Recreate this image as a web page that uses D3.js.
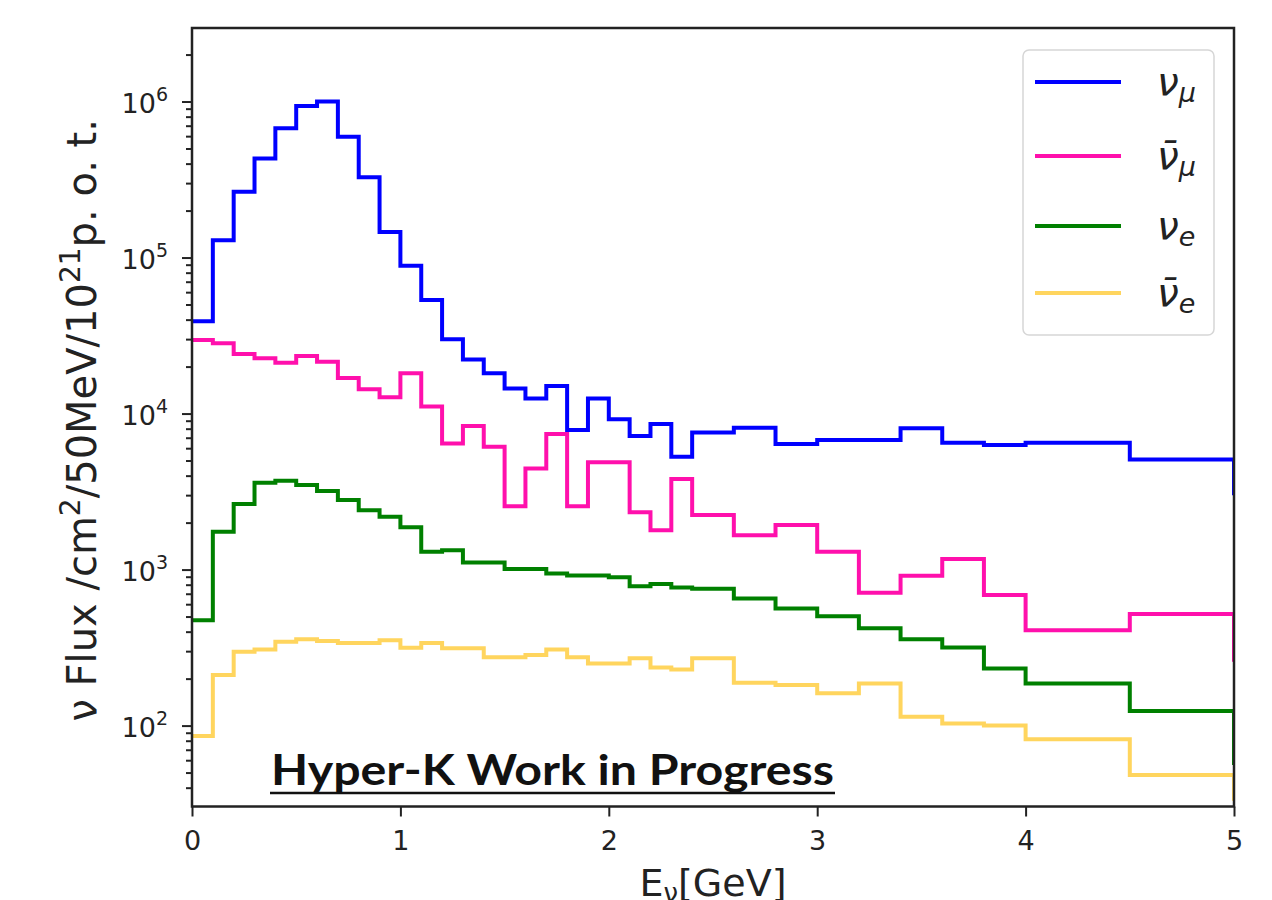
<!DOCTYPE html>
<html>
<head>
<meta charset="utf-8">
<script src="https://cdn.jsdelivr.net/npm/d3@7"></script>
<style>
  body { margin: 0; background: #fff; }
  svg { display: block; }
</style>
</head>
<body>
<svg id="chart" width="1272" height="900"></svg>
<script>
// Bin edges in GeV (plotted as post-steps, last value is the closing drop at 5 GeV)
const edges = [0, 0.1, 0.2, 0.3, 0.4, 0.5, 0.6, 0.7, 0.8, 0.9, 1.0, 1.1, 1.2, 1.3, 1.4, 1.5, 1.6, 1.7,
    1.8, 1.9, 2.0, 2.1, 2.2, 2.3, 2.4, 2.6, 2.8, 3.0, 3.2, 3.4, 3.6, 3.8, 4.0, 4.5, 5.0]

const numu = [39000, 129000, 264000, 432000, 673000, 935000, 1000000, 595000, 327000, 146000,
    88500, 53500, 29900, 22200, 18100, 14500, 12500, 15000, 7840, 12500,
    9180, 7180, 8570, 5290, 7570, 8110, 6370, 6760, 6760, 8040, 6500, 6290, 6500, 5080, 3000]

const numubar = [29600, 28200, 24100, 22600, 21200, 23400, 21500, 16900, 14300, 12700,
    18100, 11100, 6440, 8310, 6130, 2550, 4450, 7390, 2550, 4870,
    4870, 2330, 1790, 3800, 2240, 1660, 1930, 1300, 710, 912, 1170, 687, 409, 519, 257]

const nue = [474, 1750, 2630, 3600, 3710, 3480, 3190, 2790, 2400, 2180,
    1870, 1300, 1330, 1110, 1110, 1010, 1010, 945, 918, 918,
    892, 783, 807, 769, 754, 653, 563, 503, 420, 357, 317, 232, 186, 124, 56]

const nuebar = [85.7, 211, 297, 307, 345, 357, 348, 339, 339, 352,
    315, 339, 313, 313, 274, 274, 283, 307, 274, 250,
    250, 270, 236, 229, 270, 188, 182, 161, 186, 114, 103, 100, 81.8, 48.2, 33]

const xTicks = [0, 1, 2, 3, 4, 5]
const yMajorExps = [2, 3, 4, 5, 6]

const series = [
    { key: "numu", values: numu, color: "#0000ff", bar: false, sub: "μ" },
    { key: "numubar", values: numubar, color: "#ff10ac", bar: true, sub: "μ" },
    { key: "nue", values: nue, color: "#008000", bar: false, sub: "e" },
    { key: "nuebar", values: nuebar, color: "#ffd55e", bar: true, sub: "e" },
]

// layout
const plot = { left: 192, right: 1234, top: 28, bottom: 806.5 }
const axisColor = "#222"
const tickFont = 27

const svg = d3.select("#chart")

const x = d3.scaleLinear().domain([0, 5]).range([plot.left, plot.right])
const y = d3.scaleLog().domain([30.3, 2.96e6]).range([plot.bottom, plot.top])

svg.append("defs").append("clipPath")
    .attr("id", "plot-clip")
    .append("rect")
    .attr("x", plot.left)
    .attr("y", plot.top)
    .attr("width", plot.right - plot.left)
    .attr("height", plot.bottom - plot.top)

// step lines
const stepLine = d3.line()
    .x(d => x(d[0]))
    .y(d => y(d[1]))
    .curve(d3.curveStepAfter)

svg.append("g")
    .attr("clip-path", "url(#plot-clip)")
    .selectAll("path")
    .data(series)
    .enter().append("path")
    .attr("d", s => stepLine(edges.map((e, i) => [e, s.values[i]])))
    .attr("fill", "none")
    .attr("stroke", s => s.color)
    .attr("stroke-width", 4)
    .attr("stroke-linejoin", "miter")

// minor ticks on log axis
const yMinor = []
yMajorExps.concat([1]).forEach(p => {
    for (let m = 2; m <= 9; m++) {
        const v = m * Math.pow(10, p)
        if (v >= y.domain()[0] && v <= y.domain()[1]) yMinor.push(v)
    }
})

const yAxisMinor = svg.append("g")
    .attr("transform", `translate(${plot.left},0)`)
    .call(d3.axisLeft(y).tickValues(yMinor).tickSize(6).tickFormat(""))
yAxisMinor.select(".domain").remove()

const yAxisMajor = svg.append("g")
    .attr("transform", `translate(${plot.left},0)`)
    .call(d3.axisLeft(y).tickValues(yMajorExps.map(p => Math.pow(10, p))).tickSize(10).tickFormat(""))
yAxisMajor.select(".domain").remove()

svg.selectAll(".tick line")
    .attr("stroke", axisColor)
    .attr("stroke-width", 2)

// y tick labels 10^n
const yLabels = svg.append("g")
    .selectAll("text")
    .data(yMajorExps)
    .enter().append("text")
    .attr("x", plot.left - 24)
    .attr("y", p => y(Math.pow(10, p)) + 11)
    .attr("text-anchor", "end")
    .attr("font-family", "DejaVu Sans")
    .attr("font-size", tickFont)
    .attr("fill", axisColor)
yLabels.append("tspan").text("10")
yLabels.append("tspan")
    .attr("font-size", 19)
    .attr("dy", -12)
    .text(p => p)

// x axis
const xAxis = svg.append("g")
    .attr("transform", `translate(0,${plot.bottom})`)
    .call(d3.axisBottom(x).tickValues(xTicks).tickSize(10).tickPadding(14).tickFormat(d3.format("d")))
xAxis.select(".domain").remove()
xAxis.selectAll("line").attr("stroke", axisColor).attr("stroke-width", 2)
xAxis.selectAll("text")
    .attr("font-family", "DejaVu Sans")
    .attr("font-size", tickFont)
    .attr("fill", axisColor)

// frame
svg.append("rect")
    .attr("x", plot.left)
    .attr("y", plot.top)
    .attr("width", plot.right - plot.left)
    .attr("height", plot.bottom - plot.top)
    .attr("fill", "none")
    .attr("stroke", axisColor)
    .attr("stroke-width", 2.5)

// axis titles
const yTitle = svg.append("text")
    .attr("transform", `translate(96,${(plot.top + plot.bottom) / 2 + 3}) rotate(-90)`)
    .attr("text-anchor", "middle")
    .attr("font-family", "DejaVu Sans")
    .attr("font-size", 40)
    .attr("fill", axisColor)
yTitle.append("tspan").text("ν Flux /cm")
yTitle.append("tspan").attr("font-size", 28).attr("dy", -16).text("2")
yTitle.append("tspan").attr("dy", 16).text("/50MeV/10")
yTitle.append("tspan").attr("font-size", 28).attr("dy", -16).text("21")
yTitle.append("tspan").attr("dy", 16).text("p. o. t.")

const xTitle = svg.append("text")
    .attr("x", (plot.left + plot.right) / 2)
    .attr("y", 896)
    .attr("text-anchor", "middle")
    .attr("font-family", "DejaVu Sans")
    .attr("font-size", 38)
    .attr("fill", axisColor)
xTitle.append("tspan").text("E")
xTitle.append("tspan").attr("font-size", 26).attr("dy", 6).text("ν")
xTitle.append("tspan").attr("dy", -6).text("[GeV]")

// watermark
svg.append("text")
    .attr("x", 271)
    .attr("y", 785)
    .attr("font-family", "Lato, 'Open Sans', sans-serif")
    .attr("font-weight", 700)
    .attr("font-size", 42)
    .attr("textLength", 563)
    .attr("lengthAdjust", "spacingAndGlyphs")
    .attr("fill", "#111")
    .text("Hyper-K Work in Progress")
svg.append("line")
    .attr("x1", 270).attr("x2", 835)
    .attr("y1", 793).attr("y2", 793)
    .attr("stroke", "#111")
    .attr("stroke-width", 2.5)

// legend
const legend = svg.append("g")
legend.append("rect")
    .attr("x", 1023).attr("y", 50)
    .attr("width", 191).attr("height", 285)
    .attr("rx", 6)
    .attr("fill", "#fff")
    .attr("fill-opacity", 0.8)
    .attr("stroke", "#d6d6d6")
    .attr("stroke-width", 1.5)

const legendRowY = [82, 156, 226, 293]
const rows = legend.selectAll(".row")
    .data(series)
    .enter().append("g")
    .attr("class", "row")
    .attr("transform", (s, i) => `translate(0,${legendRowY[i]})`)

rows.append("line")
    .attr("x1", 1035).attr("x2", 1121)
    .attr("stroke", s => s.color)
    .attr("stroke-width", 4)

const lbl = rows.append("text")
    .attr("x", 1157)
    .attr("y", 13)
    .attr("font-family", "DejaVu Sans")
    .attr("font-style", "italic")
    .attr("font-size", 39)
    .attr("fill", axisColor)
lbl.append("tspan").text(s => s.bar ? "ν\u0304" : "ν")
lbl.append("tspan")
    .attr("font-size", 27)
    .attr("dy", 7)
    .text(s => s.sub)
</script>
</body>
</html>
